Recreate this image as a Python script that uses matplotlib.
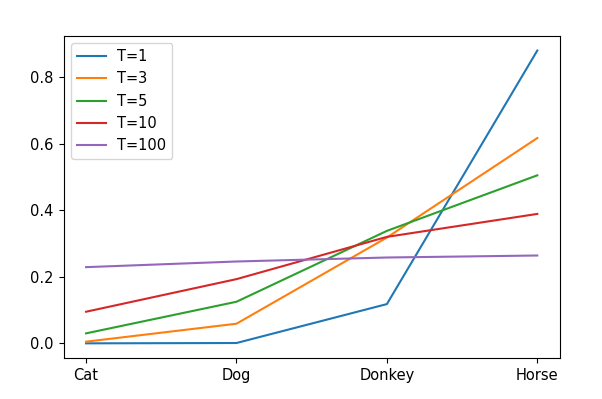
import matplotlib
matplotlib.use("Agg")
import numpy as np
from matplotlib import pyplot as plt

plt.rcParams['font.size'] = 10.5

# classes on the x axis
animals = ['Cat', 'Dog', 'Donkey', 'Horse']

# probabilities, one list per temperature
t1 = [0.000, 0.001, 0.118, 0.880]
t3 = [0.005, 0.059, 0.318, 0.617]
t5 = [0.030, 0.125, 0.338, 0.505]
t10 = [0.095, 0.193, 0.320, 0.389]
t100 = [0.229, 0.246, 0.258, 0.264]

series = [t1, t3, t5, t10, t100]
labels = ['T=1', 'T=3', 'T=5', 'T=10', 'T=100']

fig = plt.figure(figsize=(6.02, 3.99), dpi=100)
ax = fig.add_subplot(111)
fig.subplots_adjust(left=0.1055, right=0.930, top=0.910, bottom=0.1028)

for vals, lab in zip(series, labels):
    ax.plot(animals, vals, label=lab)

ax.legend(loc='upper left')

fig.savefig('out.png', dpi=100)
